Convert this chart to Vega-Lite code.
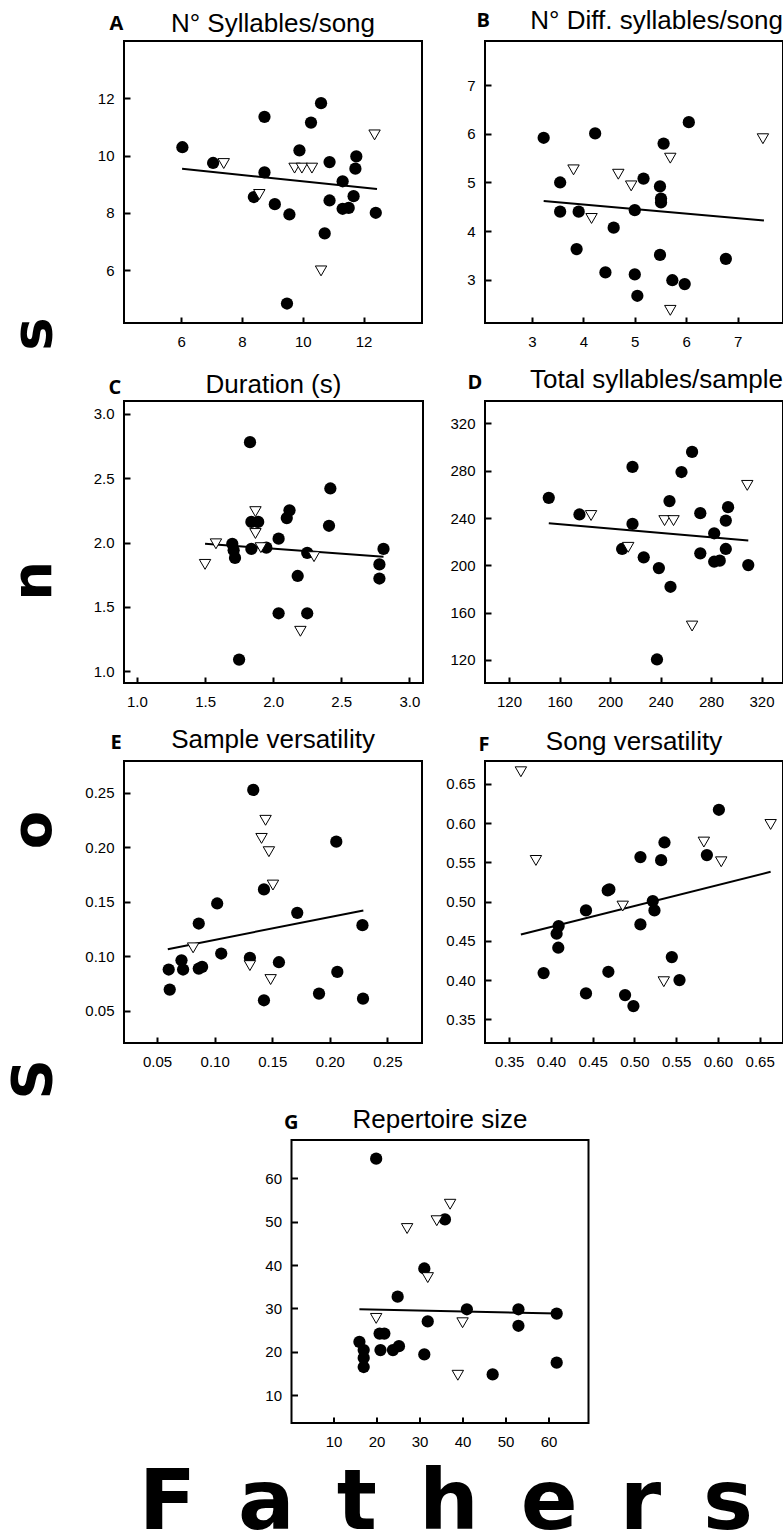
{
"$schema": "https://vega.github.io/schema/vega-lite/v6.json",
"padding": {"left": 5, "top": 7, "right": 2, "bottom": 0},
"config": {
 "view": {"stroke": "black", "strokeWidth": 2},
 "axis": {"domain": false, "grid": false, "tickSize": -6, "tickWidth": 2, "tickColor": "black", "labelFont": "Liberation Sans", "labelFontSize": 15, "labelColor": "black", "labelPadding": 16},
 "axisX": {"labelPadding": 17},
 "axisY": {"titleFont": "Open Sans", "titleFontWeight": "bold", "titleFontSize": 20, "titleAngle": 0, "titleAlign": "left", "titleBaseline": "alphabetic", "titleColor": "black"},
 "title": {"font": "Liberation Sans", "fontSize": 26, "fontWeight": "normal", "color": "black", "baseline": "alphabetic", "frame": "group"}
},
"datasets": {
 "pts": [
  {"panel":"A","kind":"c","x":6.04,"y":10.29},{"panel":"A","kind":"c","x":7.05,"y":9.74},{"panel":"A","kind":"c","x":8.74,"y":11.35},{"panel":"A","kind":"c","x":8.74,"y":9.41},{"panel":"A","kind":"c","x":8.39,"y":8.55},{"panel":"A","kind":"c","x":9.08,"y":8.30},{"panel":"A","kind":"c","x":9.56,"y":7.94},{"panel":"A","kind":"c","x":9.48,"y":4.83},{"panel":"A","kind":"c","x":9.89,"y":10.18},{"panel":"A","kind":"c","x":10.27,"y":11.15},{"panel":"A","kind":"c","x":10.60,"y":11.83},{"panel":"A","kind":"c","x":10.88,"y":9.77},{"panel":"A","kind":"c","x":10.72,"y":7.28},{"panel":"A","kind":"c","x":10.88,"y":8.43},{"panel":"A","kind":"c","x":11.31,"y":9.10},{"panel":"A","kind":"c","x":11.31,"y":8.14},{"panel":"A","kind":"c","x":11.51,"y":8.17},{"panel":"A","kind":"c","x":11.67,"y":8.58},{"panel":"A","kind":"c","x":11.73,"y":9.54},{"panel":"A","kind":"c","x":11.76,"y":9.97},{"panel":"A","kind":"c","x":12.40,"y":8.00},
  {"panel":"A","kind":"t","x":7.40,"y":9.72},{"panel":"A","kind":"t","x":8.57,"y":8.64},{"panel":"A","kind":"t","x":9.73,"y":9.56},{"panel":"A","kind":"t","x":9.97,"y":9.56},{"panel":"A","kind":"t","x":10.30,"y":9.56},{"panel":"A","kind":"t","x":10.60,"y":5.97},{"panel":"A","kind":"t","x":12.36,"y":10.72},
  {"panel":"B","kind":"c","x":3.23,"y":5.92},{"panel":"B","kind":"c","x":3.55,"y":5.00},{"panel":"B","kind":"c","x":3.55,"y":4.40},{"panel":"B","kind":"c","x":3.91,"y":4.40},{"panel":"B","kind":"c","x":3.87,"y":3.63},{"panel":"B","kind":"c","x":4.23,"y":6.01},{"panel":"B","kind":"c","x":4.43,"y":3.15},{"panel":"B","kind":"c","x":4.59,"y":4.07},{"panel":"B","kind":"c","x":5.00,"y":4.43},{"panel":"B","kind":"c","x":5.00,"y":3.11},{"panel":"B","kind":"c","x":5.05,"y":2.67},{"panel":"B","kind":"c","x":5.17,"y":5.08},{"panel":"B","kind":"c","x":5.49,"y":4.92},{"panel":"B","kind":"c","x":5.51,"y":4.67},{"panel":"B","kind":"c","x":5.51,"y":4.59},{"panel":"B","kind":"c","x":5.49,"y":3.51},{"panel":"B","kind":"c","x":5.56,"y":5.80},{"panel":"B","kind":"c","x":5.73,"y":2.99},{"panel":"B","kind":"c","x":5.97,"y":2.91},{"panel":"B","kind":"c","x":6.05,"y":6.24},{"panel":"B","kind":"c","x":6.77,"y":3.43},
  {"panel":"B","kind":"t","x":3.81,"y":5.26},{"panel":"B","kind":"t","x":4.16,"y":4.26},{"panel":"B","kind":"t","x":4.68,"y":5.17},{"panel":"B","kind":"t","x":4.93,"y":4.93},{"panel":"B","kind":"t","x":5.69,"y":5.50},{"panel":"B","kind":"t","x":5.69,"y":2.37},{"panel":"B","kind":"t","x":7.49,"y":5.90},
  {"panel":"C","kind":"c","x":1.83,"y":2.78},{"panel":"C","kind":"c","x":1.70,"y":1.99},{"panel":"C","kind":"c","x":1.71,"y":1.94},{"panel":"C","kind":"c","x":1.72,"y":1.88},{"panel":"C","kind":"c","x":1.84,"y":2.16},{"panel":"C","kind":"c","x":1.89,"y":2.16},{"panel":"C","kind":"c","x":1.84,"y":1.95},{"panel":"C","kind":"c","x":1.95,"y":1.96},{"panel":"C","kind":"c","x":2.04,"y":2.03},{"panel":"C","kind":"c","x":2.12,"y":2.25},{"panel":"C","kind":"c","x":2.10,"y":2.19},{"panel":"C","kind":"c","x":2.25,"y":1.92},{"panel":"C","kind":"c","x":2.18,"y":1.74},{"panel":"C","kind":"c","x":2.04,"y":1.45},{"panel":"C","kind":"c","x":2.25,"y":1.45},{"panel":"C","kind":"c","x":1.75,"y":1.09},{"panel":"C","kind":"c","x":2.42,"y":2.42},{"panel":"C","kind":"c","x":2.41,"y":2.13},{"panel":"C","kind":"c","x":2.81,"y":1.95},{"panel":"C","kind":"c","x":2.78,"y":1.83},{"panel":"C","kind":"c","x":2.78,"y":1.72},
  {"panel":"C","kind":"t","x":1.50,"y":1.83},{"panel":"C","kind":"t","x":1.58,"y":1.99},{"panel":"C","kind":"t","x":1.87,"y":2.24},{"panel":"C","kind":"t","x":1.87,"y":2.07},{"panel":"C","kind":"t","x":1.91,"y":1.96},{"panel":"C","kind":"t","x":2.30,"y":1.89},{"panel":"C","kind":"t","x":2.20,"y":1.31},
  {"panel":"D","kind":"c","x":151.5,"y":257.1},{"panel":"D","kind":"c","x":175.8,"y":243.0},{"panel":"D","kind":"c","x":217.8,"y":283.2},{"panel":"D","kind":"c","x":217.8,"y":235.0},{"panel":"D","kind":"c","x":209.6,"y":213.8},{"panel":"D","kind":"c","x":226.7,"y":206.7},{"panel":"D","kind":"c","x":238.7,"y":197.6},{"panel":"D","kind":"c","x":237.2,"y":120.3},{"panel":"D","kind":"c","x":247.1,"y":254.3},{"panel":"D","kind":"c","x":247.9,"y":181.8},{"panel":"D","kind":"c","x":256.6,"y":278.9},{"panel":"D","kind":"c","x":265.0,"y":295.9},{"panel":"D","kind":"c","x":271.5,"y":244.1},{"panel":"D","kind":"c","x":271.5,"y":210.1},{"panel":"D","kind":"c","x":282.5,"y":227.1},{"panel":"D","kind":"c","x":282.5,"y":203.0},{"panel":"D","kind":"c","x":286.9,"y":203.9},{"panel":"D","kind":"c","x":291.7,"y":213.8},{"panel":"D","kind":"c","x":291.7,"y":237.8},{"panel":"D","kind":"c","x":293.5,"y":249.2},{"panel":"D","kind":"c","x":309.5,"y":200.2},
  {"panel":"D","kind":"t","x":185.0,"y":242.1},{"panel":"D","kind":"t","x":214.4,"y":215.2},{"panel":"D","kind":"t","x":243.2,"y":237.8},{"panel":"D","kind":"t","x":250.3,"y":237.8},{"panel":"D","kind":"t","x":265.0,"y":148.6},{"panel":"D","kind":"t","x":308.7,"y":267.6},
  {"panel":"E","kind":"c","x":0.1335,"y":0.2525},{"panel":"E","kind":"c","x":0.2056,"y":0.2050},{"panel":"E","kind":"c","x":0.1428,"y":0.1612},{"panel":"E","kind":"c","x":0.1022,"y":0.1483},{"panel":"E","kind":"c","x":0.0862,"y":0.1299},{"panel":"E","kind":"c","x":0.1717,"y":0.1397},{"panel":"E","kind":"c","x":0.2283,"y":0.1284},{"panel":"E","kind":"c","x":0.1057,"y":0.1024},{"panel":"E","kind":"c","x":0.1306,"y":0.0984},{"panel":"E","kind":"c","x":0.1558,"y":0.0944},{"panel":"E","kind":"c","x":0.0712,"y":0.0962},{"panel":"E","kind":"c","x":0.0726,"y":0.0877},{"panel":"E","kind":"c","x":0.0601,"y":0.0877},{"panel":"E","kind":"c","x":0.0610,"y":0.0693},{"panel":"E","kind":"c","x":0.0862,"y":0.0886},{"panel":"E","kind":"c","x":0.0891,"y":0.0901},{"panel":"E","kind":"c","x":0.2065,"y":0.0855},{"panel":"E","kind":"c","x":0.1428,"y":0.0595},{"panel":"E","kind":"c","x":0.1906,"y":0.0656},{"panel":"E","kind":"c","x":0.2288,"y":0.0610},
  {"panel":"E","kind":"t","x":0.1442,"y":0.2246},{"panel":"E","kind":"t","x":0.1407,"y":0.2080},{"panel":"E","kind":"t","x":0.1471,"y":0.1958},{"panel":"E","kind":"t","x":0.1506,"y":0.1652},{"panel":"E","kind":"t","x":0.0813,"y":0.1076},{"panel":"E","kind":"t","x":0.1306,"y":0.0913},{"panel":"E","kind":"t","x":0.1486,"y":0.0785},
  {"panel":"F","kind":"c","x":0.6012,"y":0.6169},{"panel":"F","kind":"c","x":0.536,"y":0.5753},{"panel":"F","kind":"c","x":0.5072,"y":0.5567},{"panel":"F","kind":"c","x":0.532,"y":0.5528},{"panel":"F","kind":"c","x":0.5868,"y":0.5592},{"panel":"F","kind":"c","x":0.468,"y":0.5142},{"panel":"F","kind":"c","x":0.470,"y":0.5155},{"panel":"F","kind":"c","x":0.522,"y":0.5007},{"panel":"F","kind":"c","x":0.524,"y":0.4888},{"panel":"F","kind":"c","x":0.442,"y":0.4888},{"panel":"F","kind":"c","x":0.4092,"y":0.4688},{"panel":"F","kind":"c","x":0.4068,"y":0.4591},{"panel":"F","kind":"c","x":0.4088,"y":0.4413},{"panel":"F","kind":"c","x":0.5072,"y":0.4710},{"panel":"F","kind":"c","x":0.3912,"y":0.4090},{"panel":"F","kind":"c","x":0.4688,"y":0.4107},{"panel":"F","kind":"c","x":0.5448,"y":0.4294},{"panel":"F","kind":"c","x":0.554,"y":0.4001},{"panel":"F","kind":"c","x":0.442,"y":0.3831},{"panel":"F","kind":"c","x":0.4888,"y":0.3810},{"panel":"F","kind":"c","x":0.4988,"y":0.3670},
  {"panel":"F","kind":"t","x":0.364,"y":0.6653},{"panel":"F","kind":"t","x":0.382,"y":0.5524},{"panel":"F","kind":"t","x":0.486,"y":0.4943},{"panel":"F","kind":"t","x":0.5352,"y":0.398},{"panel":"F","kind":"t","x":0.5832,"y":0.5758},{"panel":"F","kind":"t","x":0.604,"y":0.5507},{"panel":"F","kind":"t","x":0.6632,"y":0.5982},
  {"panel":"G","kind":"c","x":19.9,"y":64.5},{"panel":"G","kind":"c","x":35.9,"y":50.5},{"panel":"G","kind":"c","x":31.1,"y":39.2},{"panel":"G","kind":"c","x":24.9,"y":32.7},{"panel":"G","kind":"c","x":41.0,"y":29.8},{"panel":"G","kind":"c","x":53.0,"y":29.8},{"panel":"G","kind":"c","x":61.9,"y":28.8},{"panel":"G","kind":"c","x":31.9,"y":27.0},{"panel":"G","kind":"c","x":53.0,"y":26.0},{"panel":"G","kind":"c","x":20.7,"y":24.2},{"panel":"G","kind":"c","x":21.8,"y":24.2},{"panel":"G","kind":"c","x":16.0,"y":22.3},{"panel":"G","kind":"c","x":17.0,"y":20.4},{"panel":"G","kind":"c","x":17.0,"y":18.6},{"panel":"G","kind":"c","x":17.0,"y":16.5},{"panel":"G","kind":"c","x":20.9,"y":20.4},{"panel":"G","kind":"c","x":23.8,"y":20.4},{"panel":"G","kind":"c","x":25.2,"y":21.3},{"panel":"G","kind":"c","x":31.1,"y":19.4},{"panel":"G","kind":"c","x":47.0,"y":14.8},{"panel":"G","kind":"c","x":61.9,"y":17.5},
  {"panel":"G","kind":"t","x":37.1,"y":54.0},{"panel":"G","kind":"t","x":34.0,"y":50.2},{"panel":"G","kind":"t","x":27.1,"y":48.4},{"panel":"G","kind":"t","x":31.9,"y":37.1},{"panel":"G","kind":"t","x":19.9,"y":27.7},{"panel":"G","kind":"t","x":40.0,"y":26.7},{"panel":"G","kind":"t","x":38.9,"y":14.6}
 ],
 "lines": [
  {"panel":"A","x":6.03,"y":9.54,"x2":12.44,"y2":8.83},
  {"panel":"B","x":3.23,"y":4.62,"x2":7.51,"y2":4.22},
  {"panel":"C","x":1.50,"y":1.99,"x2":2.81,"y2":1.89},
  {"panel":"D","x":151.5,"y":235.6,"x2":309.5,"y2":220.9},
  {"panel":"E","x":0.0593,"y":0.1064,"x2":0.2291,"y2":0.1419},
  {"panel":"F","x":0.364,"y":0.4582,"x2":0.6632,"y2":0.538},
  {"panel":"G","x":16.0,"y":29.8,"x2":61.9,"y2":28.8}
 ]
},
"title": {"text": "F\u2002a\u2002t\u2002h\u2002e\u2002r\u2002s", "orient": "bottom", "font": "DejaVu Sans", "fontSize": 84, "fontWeight": "bold", "anchor": "middle", "frame": "bounds", "baseline": "top", "offset": 13, "dx": 51},
"vconcat": [
 {
  "title": {"text": "S\u2003\u2003\u2003\u2002\u2005o\u2003\u2003\u2003\u2002\u2005n\u2003\u2003\u2003\u2002\u2005s", "orient": "left", "font": "DejaVu Sans", "fontSize": 56, "fontWeight": "bold", "anchor": "middle", "frame": "bounds", "offset": 21, "dx": 20},
  "center": true,
  "spacing": 36,
  "vconcat": [
   {
    "columns": 2,
    "bounds": "flush",
    "spacing": {"row": 78, "column": 62},
    "concat": [
       {
        "width": 298, "height": 282,
        "title": {"text": "N° Syllables/song", "offset": -24},
        "encoding": {
         "x": {"field": "x", "type": "quantitative", "scale": {"domain": [4.12, 13.92], "nice": false, "zero": false}, "axis": {"values": [6, 8, 10, 12], "title": null}},
         "y": {"field": "y", "type": "quantitative", "scale": {"domain": [4.15, 14.0], "nice": false, "zero": false}, "axis": {"values": [6, 8, 10, 12], "title": "A", "titleX": -15, "titleY": -12}}
        },
        "layer": [
         {"data": {"name": "lines"}, "transform": [{"filter": "datum.panel === 'A'"}], "mark": {"type": "rule", "color": "black", "strokeWidth": 2}, "encoding": {"x2": {"field": "x2"}, "y2": {"field": "y2"}}},
         {"data": {"name": "pts"}, "transform": [{"filter": "datum.panel === 'A' && datum.kind === 'c'"}], "mark": {"type": "point", "shape": "circle", "filled": true, "color": "black", "size": 150, "opacity": 1}},
         {"data": {"name": "pts"}, "transform": [{"filter": "datum.panel === 'A' && datum.kind === 't'"}], "mark": {"type": "point", "shape": "triangle-down", "filled": true, "fill": "white", "stroke": "black", "strokeWidth": 1, "size": 130, "opacity": 1}}
        ]
       },
       {
        "width": 298, "height": 282,
        "title": {"text": "N° Diff. syllables/song", "offset": -24, "anchor": "end"},
        "encoding": {
         "x": {"field": "x", "type": "quantitative", "scale": {"domain": [2.09, 7.88], "nice": false, "zero": false}, "axis": {"values": [3, 4, 5, 6, 7], "title": null}},
         "y": {"field": "y", "type": "quantitative", "scale": {"domain": [2.11, 7.91], "nice": false, "zero": false}, "axis": {"values": [3, 4, 5, 6, 7], "title": "B", "titleX": -9, "titleY": -15}}
        },
        "layer": [
         {"data": {"name": "lines"}, "transform": [{"filter": "datum.panel === 'B'"}], "mark": {"type": "rule", "color": "black", "strokeWidth": 2}, "encoding": {"x2": {"field": "x2"}, "y2": {"field": "y2"}}},
         {"data": {"name": "pts"}, "transform": [{"filter": "datum.panel === 'B' && datum.kind === 'c'"}], "mark": {"type": "point", "shape": "circle", "filled": true, "color": "black", "size": 150, "opacity": 1}},
         {"data": {"name": "pts"}, "transform": [{"filter": "datum.panel === 'B' && datum.kind === 't'"}], "mark": {"type": "point", "shape": "triangle-down", "filled": true, "fill": "white", "stroke": "black", "strokeWidth": 1, "size": 130, "opacity": 1}}
        ]
       },
       {
        "width": 299, "height": 282,
        "title": {"text": "Duration (s)", "offset": -21},
        "encoding": {
         "x": {"field": "x", "type": "quantitative", "scale": {"domain": [0.905, 3.1], "nice": false, "zero": false}, "axis": {"values": [1.0, 1.5, 2.0, 2.5, 3.0], "format": ".1f", "title": null}},
         "y": {"field": "y", "type": "quantitative", "scale": {"domain": [0.908, 3.1], "nice": false, "zero": false}, "axis": {"values": [1.0, 1.5, 2.0, 2.5, 3.0], "format": ".1f", "title": "C", "titleX": -16, "titleY": -8}}
        },
        "layer": [
         {"data": {"name": "lines"}, "transform": [{"filter": "datum.panel === 'C'"}], "mark": {"type": "rule", "color": "black", "strokeWidth": 2}, "encoding": {"x2": {"field": "x2"}, "y2": {"field": "y2"}}},
         {"data": {"name": "pts"}, "transform": [{"filter": "datum.panel === 'C' && datum.kind === 'c'"}], "mark": {"type": "point", "shape": "circle", "filled": true, "color": "black", "size": 150, "opacity": 1}},
         {"data": {"name": "pts"}, "transform": [{"filter": "datum.panel === 'C' && datum.kind === 't'"}], "mark": {"type": "point", "shape": "triangle-down", "filled": true, "fill": "white", "stroke": "black", "strokeWidth": 1, "size": 130, "opacity": 1}}
        ]
       },
       {
        "width": 298, "height": 282,
        "title": {"text": "Total syllables/sample", "offset": -21, "anchor": "end"},
        "encoding": {
         "x": {"field": "x", "type": "quantitative", "scale": {"domain": [101, 337], "nice": false, "zero": false}, "axis": {"values": [120, 160, 200, 240, 280, 320], "title": null}},
         "y": {"field": "y", "type": "quantitative", "scale": {"domain": [100.4, 339], "nice": false, "zero": false}, "axis": {"values": [120, 160, 200, 240, 280, 320], "title": "D", "titleX": -18, "titleY": -13}}
        },
        "layer": [
         {"data": {"name": "lines"}, "transform": [{"filter": "datum.panel === 'D'"}], "mark": {"type": "rule", "color": "black", "strokeWidth": 2}, "encoding": {"x2": {"field": "x2"}, "y2": {"field": "y2"}}},
         {"data": {"name": "pts"}, "transform": [{"filter": "datum.panel === 'D' && datum.kind === 'c'"}], "mark": {"type": "point", "shape": "circle", "filled": true, "color": "black", "size": 150, "opacity": 1}},
         {"data": {"name": "pts"}, "transform": [{"filter": "datum.panel === 'D' && datum.kind === 't'"}], "mark": {"type": "point", "shape": "triangle-down", "filled": true, "fill": "white", "stroke": "black", "strokeWidth": 1, "size": 130, "opacity": 1}}
        ]
       },
       {
        "width": 298, "height": 282,
        "title": {"text": "Sample versatility", "offset": -21},
        "encoding": {
         "x": {"field": "x", "type": "quantitative", "scale": {"domain": [0.0213, 0.28], "nice": false, "zero": false}, "axis": {"values": [0.05, 0.10, 0.15, 0.20, 0.25], "format": ".2f", "title": null}},
         "y": {"field": "y", "type": "quantitative", "scale": {"domain": [0.0203, 0.279], "nice": false, "zero": false}, "axis": {"values": [0.05, 0.10, 0.15, 0.20, 0.25], "format": ".2f", "title": "E", "titleX": -14, "titleY": -13}}
        },
        "layer": [
         {"data": {"name": "lines"}, "transform": [{"filter": "datum.panel === 'E'"}], "mark": {"type": "rule", "color": "black", "strokeWidth": 2}, "encoding": {"x2": {"field": "x2"}, "y2": {"field": "y2"}}},
         {"data": {"name": "pts"}, "transform": [{"filter": "datum.panel === 'E' && datum.kind === 'c'"}], "mark": {"type": "point", "shape": "circle", "filled": true, "color": "black", "size": 150, "opacity": 1}},
         {"data": {"name": "pts"}, "transform": [{"filter": "datum.panel === 'E' && datum.kind === 't'"}], "mark": {"type": "point", "shape": "triangle-down", "filled": true, "fill": "white", "stroke": "black", "strokeWidth": 1, "size": 130, "opacity": 1}}
        ]
       },
       {
        "width": 298, "height": 282,
        "title": {"text": "Song versatility", "offset": -21},
        "encoding": {
         "x": {"field": "x", "type": "quantitative", "scale": {"domain": [0.321, 0.678], "nice": false, "zero": false}, "axis": {"values": [0.35, 0.40, 0.45, 0.50, 0.55, 0.60, 0.65], "format": ".2f", "title": null}},
         "y": {"field": "y", "type": "quantitative", "scale": {"domain": [0.320, 0.679], "nice": false, "zero": false}, "axis": {"values": [0.35, 0.40, 0.45, 0.50, 0.55, 0.60, 0.65], "format": ".2f", "title": "F", "titleX": -7, "titleY": -11}}
        },
        "layer": [
         {"data": {"name": "lines"}, "transform": [{"filter": "datum.panel === 'F'"}], "mark": {"type": "rule", "color": "black", "strokeWidth": 2}, "encoding": {"x2": {"field": "x2"}, "y2": {"field": "y2"}}},
         {"data": {"name": "pts"}, "transform": [{"filter": "datum.panel === 'F' && datum.kind === 'c'"}], "mark": {"type": "point", "shape": "circle", "filled": true, "color": "black", "size": 150, "opacity": 1}},
         {"data": {"name": "pts"}, "transform": [{"filter": "datum.panel === 'F' && datum.kind === 't'"}], "mark": {"type": "point", "shape": "triangle-down", "filled": true, "fill": "white", "stroke": "black", "strokeWidth": 1, "size": 130, "opacity": 1}}
        ]
       }
    ]
   },
   {
    "width": 297, "height": 283,
    "title": {"text": "Repertoire size", "offset": -21},
    "resolve": {"axis": {"y": "independent"}},
    "encoding": {
     "x": {"field": "x", "type": "quantitative", "scale": {"domain": [0.2, 69.3], "nice": false, "zero": false}, "axis": {"values": [10, 20, 30, 40, 50, 60], "title": null}},
     "y": {"field": "y", "type": "quantitative", "scale": {"domain": [3.6, 68.8], "nice": false, "zero": false}, "axis": {"values": [10, 20, 30, 40, 50, 60], "title": "G", "titleX": -8, "titleY": -12}}
    },
    "layer": [
     {"data": {"name": "lines"}, "transform": [{"filter": "datum.panel === 'G'"}], "mark": {"type": "rule", "color": "black", "strokeWidth": 2}, "encoding": {"y": {"field": "y", "type": "quantitative", "axis": {"orient": "right", "labels": false, "title": null, "values": [30], "tickSize": 26, "tickColor": "transparent"}}, "x2": {"field": "x2"}, "y2": {"field": "y2"}}},
     {"data": {"name": "pts"}, "transform": [{"filter": "datum.panel === 'G' && datum.kind === 'c'"}], "mark": {"type": "point", "shape": "circle", "filled": true, "color": "black", "size": 150, "opacity": 1}},
     {"data": {"name": "pts"}, "transform": [{"filter": "datum.panel === 'G' && datum.kind === 't'"}], "mark": {"type": "point", "shape": "triangle-down", "filled": true, "fill": "white", "stroke": "black", "strokeWidth": 1, "size": 130, "opacity": 1}, "encoding": {"y": {"field": "y", "type": "quantitative", "axis": null}}}
    ]
   }
  ]
 }
]
}
